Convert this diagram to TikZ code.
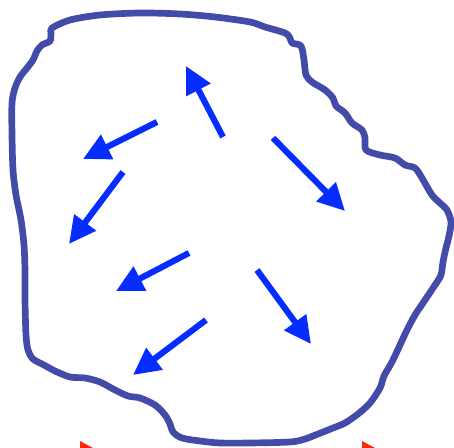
\documentclass[tikz,border=0pt]{standalone}
\usetikzlibrary{arrows.meta}
\definecolor{rim}{RGB}{67,75,168}
\definecolor{force}{RGB}{5,45,255}
\definecolor{tip}{RGB}{255,40,10}
\begin{document}
\begin{tikzpicture}[x=0.02cm, y=-0.02cm, >={Triangle[length=0.54cm, width=0.52cm]}]
  \useasboundingbox (0,0) rectangle (454,448);
  \draw[rim, line width=3.8pt, line join=round] plot[smooth cycle, tension=0.5] coordinates {
    (52,28) (70,20) (100,15) (140,13) (180,14) (215,17) (250,22) (265,27)
    (285,33) (290,38) (292,43) (301,46) (304,60) (306,75) (312,82) (325,90)
    (333,98) (336,106) (345,113) (352,123) (362,130) (365,138) (366,150) (380,155)
    (395,158) (405,165) (415,168) (422,178) (432,195) (440,203) (447,210) (451,222)
    (449,236) (446,248) (443,262) (441,275) (435,285) (425,300) (415,315) (407,330)
    (400,345) (392,362) (384,376) (380,388) (370,403) (358,414) (345,423) (333,428)
    (318,434) (305,439) (290,442) (250,443) (220,443) (200,441) (182,438) (173,432)
    (170,424) (165,415) (155,405) (140,398) (128,396) (115,390) (100,382) (85,378)
    (70,377) (55,371) (44,365) (33,359) (28,350) (26,335) (25,300) (25,270)
    (24,245) (21,220) (16,195) (13,170) (12,135) (12,103) (15,88) (20,77)
    (27,68) (33,60) (37,51) (42,45) (50,41) (51,33)};
  % force arrows
  \foreach \xa/\ya/\xb/\yb in {223/137/186/66, 157/122/83/159, 123/172/69/244,
      273/138/345/211, 189/253/116/291, 257/270/311/344, 206/320/133/375}
    \draw[->, force, line width=3.5pt] (\xa,\ya) -- (\xb,\yb);
  % red tips
  \fill[tip] (80,441) -- (93,448) -- (80,448) -- cycle;
  \fill[tip] (362,441) -- (375,448) -- (362,448) -- cycle;
\end{tikzpicture}
\end{document}
